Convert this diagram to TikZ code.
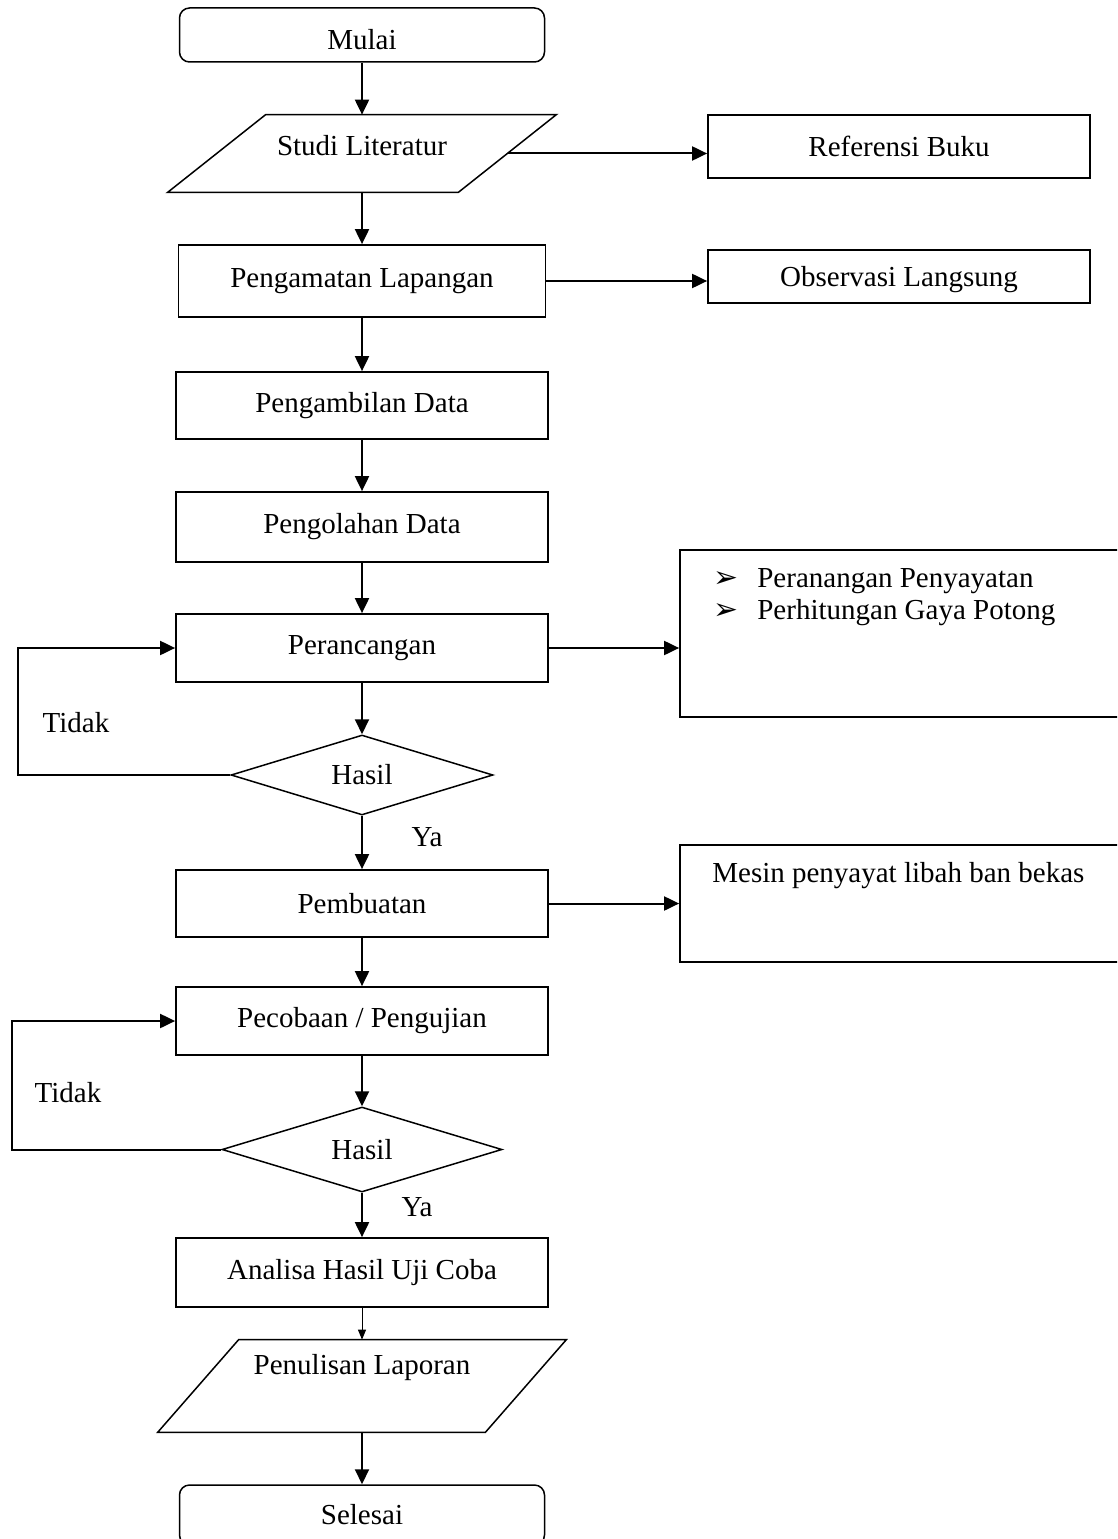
\documentclass[tikz,border=0pt]{standalone}
\usepackage{fontspec}
\setmainfont{Liberation Serif}
\newfontfamily\symfont{DejaVu Sans}
\usetikzlibrary{arrows.meta,shapes.geometric}
\def\butir{\makebox[0.88cm][l]{\symfont\fontsize{17}{17}\selectfont ➢}}
\tikzset{
	kotak/.style={draw, line width=0.35mm, rectangle, minimum width=7.44cm, inner sep=0},
	ujung/.style={draw, line width=0.3mm, rectangle, rounded corners=0.2cm, minimum width=7.3cm, inner sep=0},
	teksjajar/.style={rectangle, inner sep=0},
	garisjajar/.style={line width=0.3mm},
	putusan/.style={draw, line width=0.3mm, diamond, inner sep=0},
	panah/.style={line width=0.4mm, -{Triangle[length=3mm,width=2.8mm]}},
	panahtipis/.style={line width=0.2mm, -{Triangle[length=2mm,width=1.6mm]}}
}

\begin{document}
\begin{tikzpicture}[font=\fontsize{16.5}{19.5}\selectfont]
		%%%%% START %%%%%
		\useasboundingbox (0, 0) rectangle (22.34, -30.78);
		\clip (0, 0) rectangle (22.34, -30.78);
		
		\node[ujung, minimum height=1.08cm, text height=0.58cm] (mulai) at (7.24, -0.70) {Mulai};
		\node[teksjajar, minimum width=7.76cm, minimum height=1.54cm, text depth=0.34cm] (studi) at (7.24, -3.07) {Studi Literatur};
		\draw[garisjajar] ([xshift=1.96cm]studi.north west) -- (studi.north east) -- ([xshift=-1.96cm]studi.south east) -- (studi.south west) -- cycle;
		\node[kotak, minimum width=7.64cm, minimum height=1.26cm] (referensi) at (17.98, -2.93) {Referensi Buku};
		
		\node[kotak, minimum width=7.34cm, minimum height=1.44cm] (pengamatan) at (7.24, -5.62) {Pengamatan Lapangan};
		\node[kotak, minimum width=7.64cm, minimum height=1.06cm, text depth=0.02cm] (observasi) at (17.98, -5.53) {Observasi Langsung};
		
		\node[kotak, minimum height=1.34cm] (pengambilan) at (7.24, -8.11) {Pengambilan Data};
		\node[kotak, minimum height=1.40cm] (pengolahan) at (7.24, -10.54) {Pengolahan Data};
		
		\node[kotak, minimum height=1.36cm] (perancangan) at (7.24, -12.96) {Perancangan};
		\node[kotak, minimum width=9cm, minimum height=3.34cm] (rincian) at (18.10, -12.67) {};
		\node[anchor=north west, align=left, inner sep=0, font=\fontsize{16.5}{18.5}\selectfont] (daftar) at (14.26, -11.36) {\butir Peranangan Penyayatan\\ \butir Perhitungan Gaya Potong};
		
		\node[putusan, aspect=3.275, minimum width=5.24cm, minimum height=1.6cm] (hasil1) at (7.24, -15.5) {Hasil};
		\coordinate (balik1) at (0.36, -15.5);
		\node (tidak1) at (1.52, -14.46) {Tidak};
		\node (ya1) at (8.54, -16.74) {Ya};
		
		\node[kotak, minimum height=1.34cm] (pembuatan) at (7.24, -18.07) {Pembuatan};
		\node[kotak, minimum width=9cm, minimum height=2.34cm] (mesin) at (18.10, -18.07) {};
		\node[anchor=base west, inner sep=0] (mesinteks) at (14.24, -17.64) {Mesin penyayat libah ban bekas};
		
		\node[kotak, minimum height=1.36cm] (pecobaan) at (7.24, -20.42) {Pecobaan / Pengujian};
		\node[putusan, aspect=3.29, minimum width=5.6cm, minimum height=1.7cm] (hasil2) at (7.24, -22.99) {Hasil};
		\coordinate (balik2) at (0.24, -22.99);
		\node (tidak2) at (1.36, -21.86) {Tidak};
		\node (ya2) at (8.34, -24.14) {Ya};
		
		\node[kotak, minimum height=1.38cm] (analisa) at (7.24, -25.45) {Analisa Hasil Uji Coba};
		\node[teksjajar, minimum width=8.16cm, minimum height=1.84cm, text depth=0.85cm] (penulisan) at (7.24, -27.72) {Penulisan Laporan};
		\draw[garisjajar] ([xshift=1.62cm]penulisan.north west) -- (penulisan.north east) -- ([xshift=-1.62cm]penulisan.south east) -- (penulisan.south west) -- cycle;
		\node[ujung, minimum height=1.2cm] (selesai) at (7.24, -30.3) {Selesai};
		
		\draw[panah] (mulai) -- (studi);
		\draw[panah] (studi) -- (pengamatan);
		\draw[panah] (pengamatan) -- (pengambilan);
		\draw[panah] (pengambilan) -- (pengolahan);
		\draw[panah] (pengolahan) -- (perancangan);
		\draw[panah] (perancangan) -- (hasil1);
		\draw[panah] (hasil1) -- (pembuatan);
		\draw[panah] (pembuatan) -- (pecobaan);
		\draw[panah] (pecobaan) -- (hasil2);
		\draw[panah] (hasil2) -- (analisa);
		\draw[panahtipis] (analisa) -- (penulisan);
		\draw[panah] (penulisan) -- (selesai);
		
		\draw[panah] ([xshift=-0.97cm]studi.east) -- (studi.east -| referensi.west);
		\draw[panah] (pengamatan.east) -- (pengamatan.east -| observasi.west);
		\draw[panah] (perancangan.east) -- (perancangan.east -| rincian.west);
		\draw[panah] (pembuatan.east) -- (pembuatan.east -| mesin.west);
		
		\draw[panah] (hasil1.west) -- (balik1) |- (perancangan.west);
		\draw[panah] (hasil2.west) -- (balik2) |- (pecobaan.west);
		
		%%%%% END %%%%%
	\end{tikzpicture}
\end{document}
